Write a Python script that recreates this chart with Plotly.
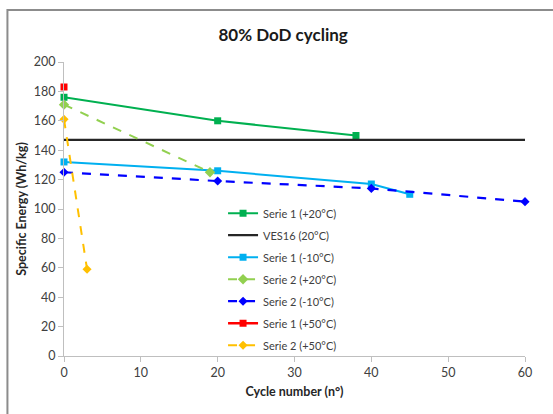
import plotly.graph_objects as go

s1_20_x = [0, 20, 38]
s1_20_y = [176, 160, 150]
ves_x = [0, 60]
ves_y = [147, 147]
s1_m10_x = [0, 20, 40, 45]
s1_m10_y = [132, 126, 117, 110]
s2_20_x = [0, 19]
s2_20_y = [171, 125]
s2_m10_x = [0, 20, 40, 60]
s2_m10_y = [125, 119, 114, 105]
s1_50_x = [0]
s1_50_y = [183]
s2_50_x = [0, 3]
s2_50_y = [161, 59]

FONT = "Lato, 'Open Sans', sans-serif"

fig = go.Figure()
fig.add_trace(go.Scatter(x=s1_20_x, y=s1_20_y, name="Serie 1 (+20°C)", mode="lines+markers",
                         line=dict(color="#00B050", width=2), marker=dict(symbol="square", size=7)))
fig.add_trace(go.Scatter(x=ves_x, y=ves_y, name="VES16 (20°C)", mode="lines",
                         line=dict(color="#262626", width=2.2)))
fig.add_trace(go.Scatter(x=s1_m10_x, y=s1_m10_y, name="Serie 1 (-10°C)", mode="lines+markers",
                         line=dict(color="#00B0F0", width=2), marker=dict(symbol="square", size=7)))
fig.add_trace(go.Scatter(x=s2_20_x, y=s2_20_y, name="Serie 2 (+20°C)", mode="lines+markers",
                         line=dict(color="#92D050", width=2, dash="dash"), marker=dict(symbol="diamond", size=8)))
fig.add_trace(go.Scatter(x=s2_m10_x, y=s2_m10_y, name="Serie 2 (-10°C)", mode="lines+markers",
                         line=dict(color="#0000FF", width=2.2, dash="dash"), marker=dict(symbol="diamond", size=7)))
fig.add_trace(go.Scatter(x=s1_50_x, y=s1_50_y, name="Serie 1 (+50°C)", mode="lines+markers",
                         line=dict(color="#FF0000", width=2.5), marker=dict(symbol="square", size=7)))
fig.add_trace(go.Scatter(x=s2_50_x, y=s2_50_y, name="Serie 2 (+50°C)", mode="lines+markers",
                         line=dict(color="#FFC000", width=2, dash="dash"), marker=dict(symbol="diamond", size=7)))

for i, tr in enumerate(fig.data):
    tr.cliponaxis = False
    tr.legendgroup = "g%d" % i

axis_common = dict(showline=True, linecolor="#BFBFBF", linewidth=1, ticks="outside",
                   tickcolor="#BFBFBF", ticklen=5, showgrid=False, zeroline=False,
                   tickfont=dict(family=FONT, size=12.5, color="#404040"))

fig.update_layout(
    width=553, height=414,
    margin=dict(l=64, r=28, t=62, b=58),
    paper_bgcolor="white", plot_bgcolor="white",
    font=dict(family=FONT, color="#262626"),
    title=dict(text="<b>80% DoD cycling</b>", x=0.512, xanchor="center", y=0.915, yanchor="middle",
               font=dict(family=FONT, size=17, color="#1a1a1a")),
    xaxis=dict(range=[0, 60], dtick=10, title=dict(text="<b>Cycle number (n°)</b>",
               font=dict(family=FONT, size=12.5, color="#262626"), standoff=8), **axis_common),
    yaxis=dict(range=[0, 200], dtick=20, title=dict(text="<b>Specific Energy (Wh/kg)</b>",
               font=dict(family=FONT, size=12.5, color="#262626"), standoff=4), **axis_common),
    legend=dict(x=0.345, y=0.535, xanchor="left", yanchor="top", bgcolor="rgba(0,0,0,0)",
                font=dict(family=FONT, size=11, color="#404040"), tracegroupgap=3,
                traceorder="grouped"),
    showlegend=True,
)

fig.add_shape(type="rect", xref="paper", yref="paper", x0=-0.1227, y0=-0.4, x1=1.2, y1=1.177,
              line=dict(color="#8c8c8c", width=2), fillcolor="rgba(0,0,0,0)", layer="below")

fig.write_html("out.html")
